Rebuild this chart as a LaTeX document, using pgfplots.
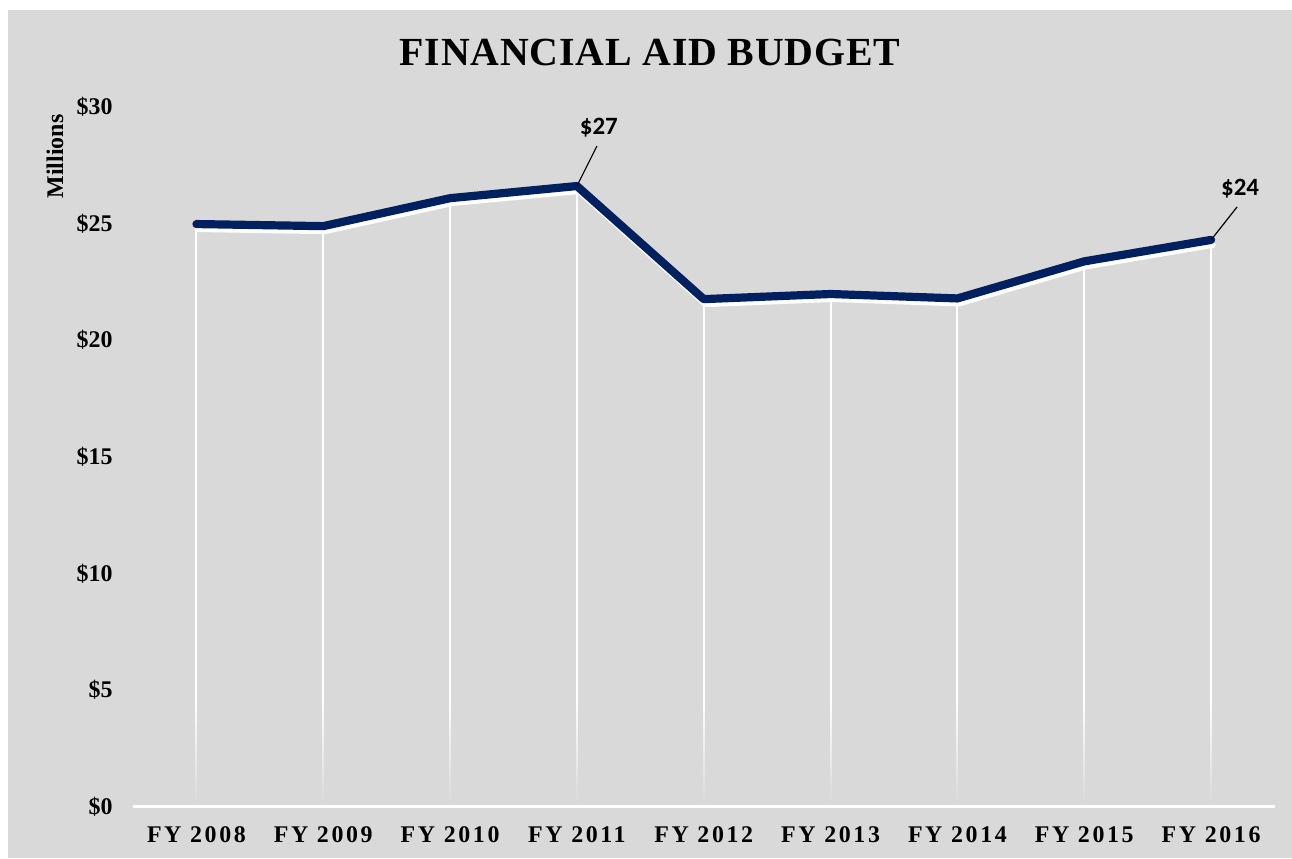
\documentclass[border=0pt]{standalone}
\usepackage{fontspec}
\setmainfont{Liberation Serif}
\newfontfamily\calibri{Carlito}
\newfontfamily\spacedserif[LetterSpace=11]{Liberation Serif}
\newfontfamily\titleserif[LetterSpace=2]{Liberation Serif}
\usepackage{pgfplots}
\usepackage{pgfplotstable}
\pgfplotsset{compat=1.18}
\usetikzlibrary{fadings}
\definecolor{bggray}{HTML}{D9D9D9}
\definecolor{navy}{HTML}{002060}

% budget in millions of dollars, FY 2008 .. FY 2016
\pgfplotstableread{
x val
0 24.98
1 24.89
2 26.09
3 26.61
4 21.76
5 21.98
6 21.79
7 23.38
8 24.30
}\budget

\begin{document}
\begin{tikzpicture}[x=1bp,y=1bp]
\path[use as bounding box, fill=white] (0,0) rectangle (646,429);
\fill[bggray] (4,0) rectangle (646,424);
\node[font=\titleserif\fontsize{20}{24}\selectfont\bfseries] at (325,402.9) {FINANCIAL AID BUDGET};
\node[font=\fontsize{12}{14}\selectfont\bfseries, rotate=90] at (27.5,350.8) {Millions};
\begin{axis}[
  at={(66.5bp,25.75bp)}, anchor=south west,
  scale only axis, width=570.75bp, height=349.75bp,
  xmin=-0.5, xmax=8.5, ymin=0, ymax=30,
  axis line style={draw=none},
  tick style={draw=none},
  xtick={0,...,8},
  xticklabels={FY 2008,FY 2009,FY 2010,FY 2011,FY 2012,FY 2013,FY 2014,FY 2015,FY 2016},
  ytick={0,5,10,15,20,25,30},
  yticklabels={\$0,\$5,\$10,\$15,\$20,\$25,\$30},
  yticklabel style={font=\fontsize{12}{14}\selectfont\bfseries, inner sep=0pt, xshift=-10bp},
  xticklabel style={font=\spacedserif\fontsize{12}{14}\selectfont\bfseries, inner sep=0pt, yshift=-9.75bp},
  clip=false,
]
% drop lines
\addplot[ycomb, white, line width=1bp, no markers] table[x=x,y=val]{\budget};
\fill[bggray, path fading=north] (axis cs:-0.5,0) rectangle (axis cs:8.5,4.5);
\draw[white, line width=1.2bp] (axis cs:-0.5,0) -- (axis cs:8.5,0);
% shadow then line
\addplot[white, line width=2.8bp, line cap=round, line join=round, no markers, xshift=0.9bp, yshift=-2.6bp] table[x=x,y=val]{\budget};
\addplot[navy, line width=4.1bp, line cap=round, line join=round, no markers] table[x=x,y=val]{\budget};
% data labels
\draw[black, line width=0.6bp] (axis cs:3,26.61) -- ++(10bp,20bp);
\node[font=\calibri\fontsize{12.5}{14}\selectfont\bfseries] at ([xshift=11bp,yshift=29bp]axis cs:3,26.61) {\$27};
\draw[black, line width=0.6bp] (axis cs:8,24.30) -- ++(13bp,16.5bp);
\node[font=\calibri\fontsize{12.5}{14}\selectfont\bfseries] at ([xshift=14.5bp,yshift=25.5bp]axis cs:8,24.30) {\$24};
\end{axis}
\end{tikzpicture}
\end{document}
